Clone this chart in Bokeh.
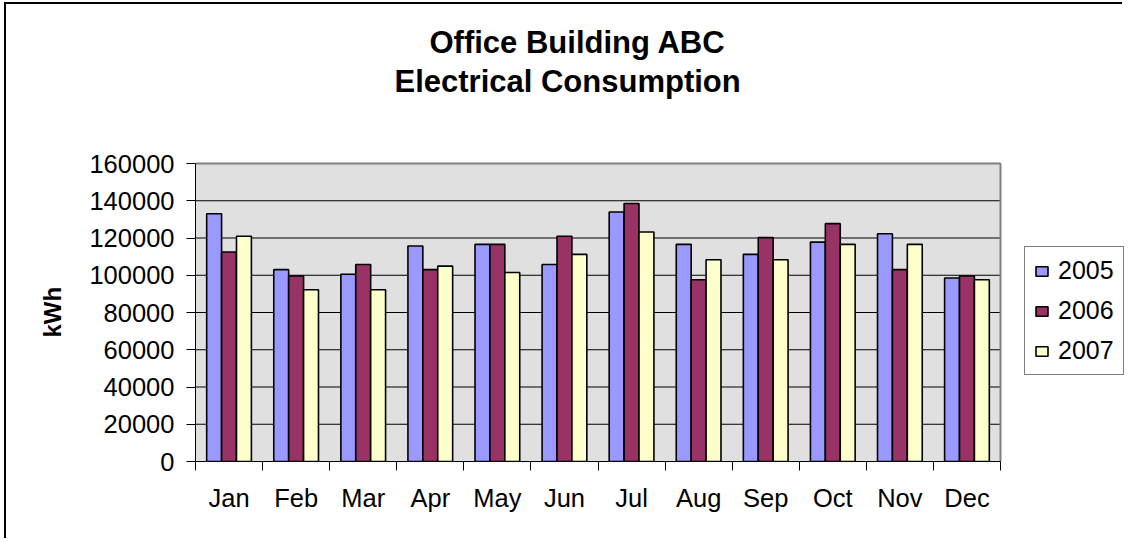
import numpy as np
from bokeh.plotting import figure
from bokeh.models import (FixedTicker, Legend, LegendItem, Label, Title, ColumnDataSource,
                          Range1d, BasicTickFormatter)
from bokeh.embed import file_html
from bokeh.resources import INLINE

# ---- data ----
months = ["Jan", "Feb", "Mar", "Apr", "May", "Jun", "Jul", "Aug", "Sep", "Oct", "Nov", "Dec"]
years = ["2005", "2006", "2007"]
kwh_2005 = [133000, 103000, 100500, 115700, 116600, 105800, 134000, 116600, 111200, 117800, 122300, 98500]
kwh_2006 = [112500, 99600, 105800, 103000, 116600, 120900, 138500, 97600, 120200, 127700, 103000, 99600]
kwh_2007 = [120900, 92200, 92200, 104900, 101500, 111200, 123200, 108300, 108300, 116600, 116600, 97600]
y_ticks = [0, 20000, 40000, 60000, 80000, 100000, 120000, 140000, 160000]
title_lines = ["Office Building ABC", "Electrical Consumption"]
y_title = "kWh"

colors = ["#9999FF", "#993366", "#FFFFCC"]
FONT = "Liberation Sans"

# ---- layout (canvas pixels) ----
W, H = 1118, 536
MB_LEFT, MB_BOTTOM = 189, 79
FRAME_W = W - MB_LEFT            # frame reaches the right edge of the canvas
FRAME_H = H - MB_BOTTOM          # frame reaches the top edge of the canvas
AREA_W, AREA_H = 805, 298        # grey plot area inside the frame

n = len(months)
y_max = y_ticks[-1]
x_end = n * FRAME_W / AREA_W
y_end = y_max * FRAME_H / AREA_H

p = figure(width=W, height=H, output_backend="svg", toolbar_location=None,
           x_range=Range1d(0, x_end), y_range=Range1d(0, y_end),
           min_border_left=MB_LEFT, min_border_right=0, min_border_top=0,
           min_border_bottom=MB_BOTTOM,
           background_fill_color="white", border_fill_color="white",
           outline_line_color=None,
           margin=(2, 0, 0, 4),
           styles={"border-left": "2px solid black", "border-top": "2px solid black"})

# plot area background, grid, border
p.quad(left=[0], right=[n], bottom=[0], top=[y_max], fill_color="#E0E0E0", line_color=None)
p.segment(x0=[0] * len(y_ticks), x1=[n] * len(y_ticks), y0=y_ticks, y1=y_ticks,
          line_color="black", line_width=1)
p.segment(x0=[0, n], x1=[n, n], y0=[y_max, 0], y1=[y_max, y_max],
          line_color="#808080", line_width=2)

idx = np.arange(n)
bw = 1 / 4.5
offsets = [-bw, 0.0, bw]
renderers = []
for yr, vals, col, off in zip(years, [kwh_2005, kwh_2006, kwh_2007], colors, offsets):
    src = ColumnDataSource(dict(x=idx + 0.5 + off, top=vals))
    r = p.vbar(x="x", top="top", bottom=0, width=bw, source=src,
               fill_color=col, line_color="black", line_width=1.6)
    renderers.append(r)

p.xgrid.visible = False
p.ygrid.visible = False

# x axis
p.xaxis.bounds = (0, n)
p.xaxis.ticker = FixedTicker(ticks=[float(i + 0.5) for i in idx], minor_ticks=list(range(n + 1)))
p.xaxis.major_label_overrides = {float(i + 0.5): m for i, m in enumerate(months)}
p.xaxis.major_tick_out = 0
p.xaxis.major_tick_in = 0
p.xaxis.minor_tick_out = 9
p.xaxis.minor_tick_in = 0
p.xaxis.minor_tick_line_color = "black"
p.xaxis.axis_line_color = "black"
p.xaxis.major_label_standoff = 13
p.xaxis.major_label_text_font = FONT
p.xaxis.major_label_text_font_size = "25.5px"
p.xaxis.major_label_text_color = "black"

# y axis
p.yaxis.bounds = (0, y_max)
p.yaxis.ticker = FixedTicker(ticks=y_ticks, minor_ticks=[])
p.yaxis.formatter = BasicTickFormatter(use_scientific=False)
p.yaxis.major_tick_out = 9
p.yaxis.major_tick_in = 0
p.yaxis.minor_tick_out = 0
p.yaxis.minor_tick_in = 0
p.yaxis.major_tick_line_color = "black"
p.yaxis.axis_line_color = "black"
p.yaxis.major_label_standoff = 12
p.yaxis.major_label_text_font = FONT
p.yaxis.major_label_text_font_size = "25.5px"
p.yaxis.major_label_text_color = "black"

# y-axis title, placed in the left panel and centred on the plot area
p.add_layout(Title(text=y_title, align="left", offset=461 - 337, standoff=42,
                   text_font=FONT, text_font_size="24px", text_font_style="bold",
                   text_color="black"), "left")

# chart title lines: left-aligned at measured left edges (screen px from frame left / bottom)
for txt, left_px, base_px in zip(title_lines, [430 - 196, 395 - 196], [461 - 42, 461 - 81]):
    p.add_layout(Label(x=left_px, y=base_px, x_units="screen", y_units="screen",
                       text=txt, text_align="left", text_baseline="alphabetic",
                       text_font=FONT, text_font_size="31px", text_font_style="bold",
                       text_color="black"))

legend = Legend(items=[LegendItem(label=yr, renderers=[r]) for yr, r in zip(years, renderers)],
                location=(1025 - 196, 461 - 375),
                border_line_color="black", border_line_width=1,
                background_fill_color="white", background_fill_alpha=1.0,
                padding=9, spacing=11, margin=0,
                glyph_width=15, glyph_height=12, label_standoff=9,
                label_text_font=FONT, label_text_font_size="25px", label_text_color="black")
p.add_layout(legend)

open("out.html", "w").write(file_html(p, INLINE))
